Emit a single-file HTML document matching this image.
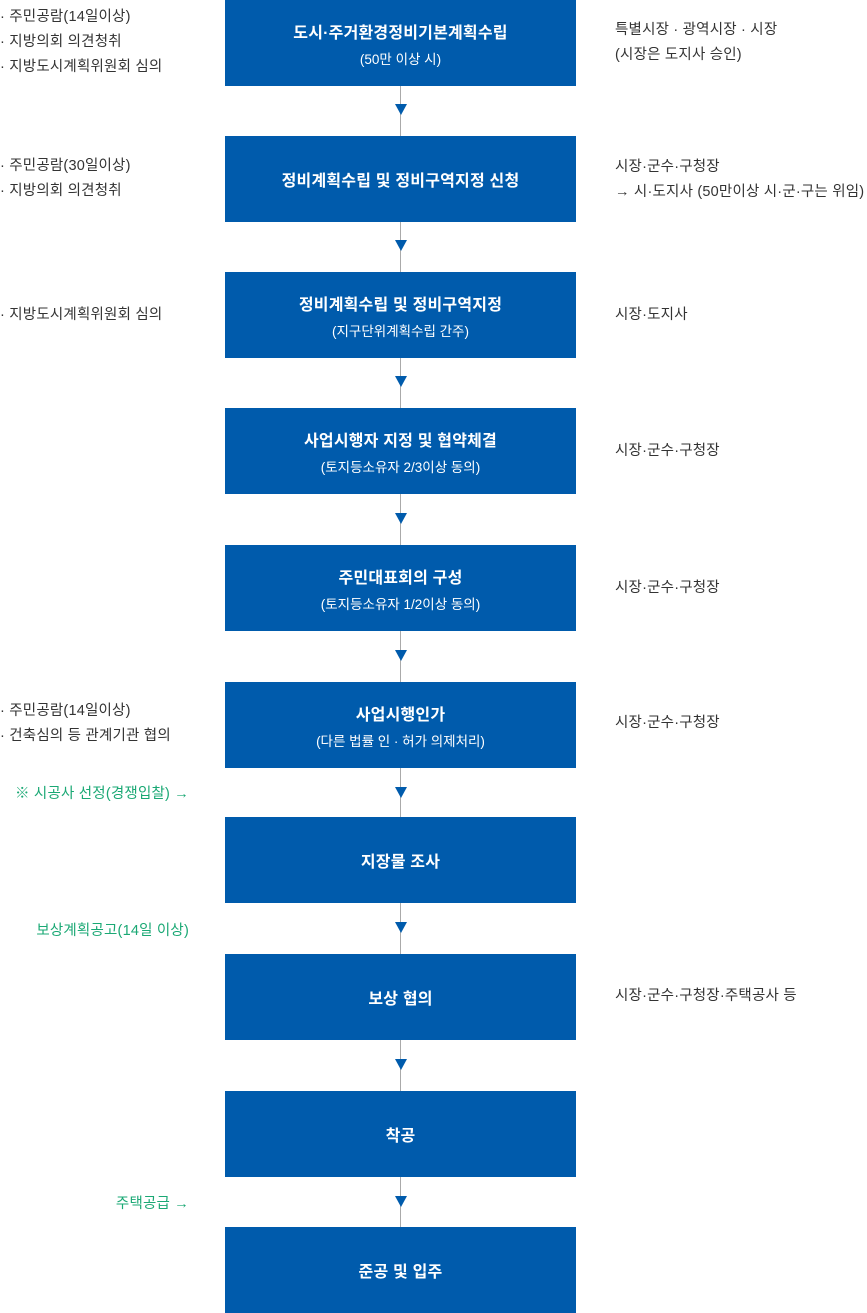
<!DOCTYPE html>
<html><head><meta charset="utf-8"><style>
body{margin:0;width:867px;height:1313px;position:relative;background:#fff;font-family:"Liberation Sans","Noto Sans CJK KR",sans-serif;overflow:hidden}
.b{position:absolute;left:225px;width:351px;height:86px;background:#005bac;color:#fff;display:flex;flex-direction:column;justify-content:center;align-items:center;text-align:center}
.b .t{font-size:16px;font-weight:bold;letter-spacing:0.2px}
.b .s{font-size:13.5px;margin-top:5px;letter-spacing:0}
.line{position:absolute;left:400px;width:1px;background:#aaa}
.ar{position:absolute;left:395px;width:0;height:0;border-left:6px solid transparent;border-right:6px solid transparent;border-top:11px solid #005bac}
.tx{position:absolute;font-size:14.5px;color:#333;letter-spacing:0.2px;white-space:nowrap;line-height:25px}
.g{position:absolute;font-size:14.5px;color:#1aa874;letter-spacing:0.2px;white-space:nowrap;right:678px}
</style></head><body>
<div class="line" style="top:0;height:1313px"></div>
<div class="b" style="top:0"><div class="t">도시·주거환경정비기본계획수립</div><div class="s">(50만 이상 시)</div></div>
<div class="b" style="top:136px"><div class="t">정비계획수립 및 정비구역지정 신청</div></div>
<div class="b" style="top:272px"><div class="t">정비계획수립 및 정비구역지정</div><div class="s">(지구단위계획수립 간주)</div></div>
<div class="b" style="top:408px"><div class="t">사업시행자 지정 및 협약체결</div><div class="s">(토지등소유자 2/3이상 동의)</div></div>
<div class="b" style="top:545px"><div class="t">주민대표회의 구성</div><div class="s">(토지등소유자 1/2이상 동의)</div></div>
<div class="b" style="top:682px"><div class="t">사업시행인가</div><div class="s">(다른 법률 인 · 허가 의제처리)</div></div>
<div class="b" style="top:817px"><div class="t">지장물 조사</div></div>
<div class="b" style="top:954px"><div class="t">보상 협의</div></div>
<div class="b" style="top:1091px"><div class="t">착공</div></div>
<div class="b" style="top:1227px"><div class="t">준공 및 입주</div></div>
<div class="ar" style="top:104px"></div>
<div class="ar" style="top:240px"></div>
<div class="ar" style="top:376px"></div>
<div class="ar" style="top:513px"></div>
<div class="ar" style="top:650px"></div>
<div class="ar" style="top:787px"></div>
<div class="ar" style="top:922px"></div>
<div class="ar" style="top:1059px"></div>
<div class="ar" style="top:1196px"></div>
<div class="tx" style="left:0;top:5px">· 주민공람(14일이상)<br>· 지방의회 의견청취<br>· 지방도시계획위원회 심의</div>
<div class="tx" style="left:0;top:154px">· 주민공람(30일이상)<br>· 지방의회 의견청취</div>
<div class="tx" style="left:0;top:303px">· 지방도시계획위원회 심의</div>
<div class="tx" style="left:0;top:699px">· 주민공람(14일이상)<br>· 건축심의 등 관계기관 협의</div>
<div class="g" style="top:782px">※ 시공사 선정(경쟁입찰) →</div>
<div class="g" style="top:919px">보상계획공고(14일 이상)</div>
<div class="g" style="top:1192px">주택공급 →</div>
<div class="tx" style="left:615px;top:18px">특별시장 · 광역시장 · 시장<br>(시장은 도지사 승인)</div>
<div class="tx" style="left:615px;top:155px">시장·군수·구청장<br>→ 시·도지사 (50만이상 시·군·구는 위임)</div>
<div class="tx" style="left:615px;top:303px">시장·도지사</div>
<div class="tx" style="left:615px;top:439px">시장·군수·구청장</div>
<div class="tx" style="left:615px;top:576px">시장·군수·구청장</div>
<div class="tx" style="left:615px;top:711px">시장·군수·구청장</div>
<div class="tx" style="left:615px;top:984px">시장·군수·구청장·주택공사 등</div>
</body></html>
